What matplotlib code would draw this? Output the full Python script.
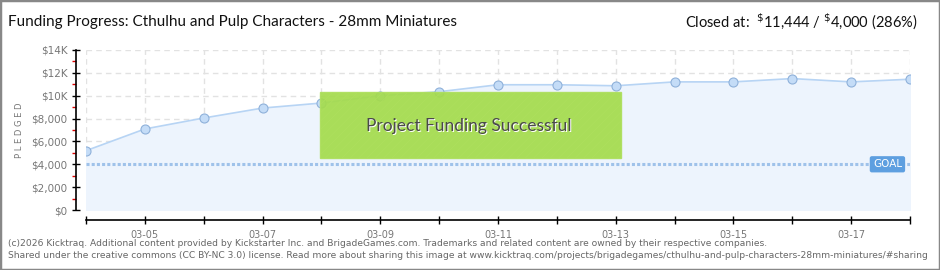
import numpy as np
import matplotlib
matplotlib.use("Agg")
import matplotlib.pyplot as plt
from matplotlib.patches import Rectangle
from matplotlib.ticker import FixedLocator

plt.rcParams["hatch.linewidth"] = 0.5

# daily pledged totals (USD), 03-04 .. 03-18
days = ["03-04", "03-05", "03-06", "03-07", "03-08", "03-09", "03-10", "03-11",
        "03-12", "03-13", "03-14", "03-15", "03-16", "03-17", "03-18"]
pledged = [5190, 7090, 8050, 8920, 9360, 10000, 10350, 10960,
           10960, 10870, 11210, 11210, 11500, 11210, 11444]
goal = 4000
y_ticks = [0, 2000, 4000, 6000, 8000, 10000, 12000, 14000]
y_labels = ["$0", "$2,000", "$4,000", "$6,000", "$8,000", "$10K", "$12K", "$14K"]

W, H = 940, 270
fig = plt.figure(figsize=(W / 100, H / 100), dpi=100)
ax = fig.add_axes([86 / W, 1 - 210 / H, 824 / W, 160 / H])

x = np.arange(len(days))
ax.fill_between(x, pledged, 0, color="#edf4fd", zorder=1)
ax.plot(x, pledged, color="#b7d4f4", lw=1.2, zorder=3)
ax.plot(x, pledged, ls="none", marker="o", ms=6.5, mfc="#c4dcf7",
        mec="#8fb1da", mew=0.8, zorder=4)

# goal line
ax.axhline(goal, color="#9fc2ea", lw=2.2, ls=(0, (1, 0.7)), zorder=2)
ax.annotate("GOAL", xy=(1.0, goal), xycoords=("axes fraction", "data"),
            xytext=(-8, 0), textcoords="offset pixels", ha="right", va="center",
            fontsize=7.5, color="white", family="DejaVu Sans",
            bbox=dict(boxstyle="round,pad=0.3,rounding_size=0.2",
                      fc="#5e9fe0", ec="none"),
            zorder=6)

ax.set_xlim(x[0], x[-1])
ax.set_ylim(0, 14000)

ax.xaxis.set_major_locator(FixedLocator(x[1::2]))
ax.xaxis.set_minor_locator(FixedLocator(x[0::2]))
ax.set_xticklabels(days[1::2])
ax.set_yticks(y_ticks)
ax.set_yticklabels(y_labels)
ax.yaxis.set_minor_locator(FixedLocator(np.arange(1000, 14000, 2000)))

ax.tick_params(axis="x", which="both", direction="inout", length=6, width=1,
               color="black", labelsize=7, labelcolor="#777777", pad=4)
ax.tick_params(axis="y", which="major", direction="inout", length=6, width=1,
               color="black", labelsize=7.5, labelcolor="#777777", pad=3)
ax.tick_params(axis="y", which="minor", direction="out", length=3, width=1,
               color="#dd0000")

for s in ["top", "right"]:
    ax.spines[s].set_visible(False)
ax.spines["left"].set_position(("outward", 7.2))
ax.spines["bottom"].set_position(("outward", 7.2))
ax.spines["left"].set_linewidth(1.2)
ax.spines["bottom"].set_linewidth(1.2)

ax.grid(True, which="both", axis="x", ls=(0, (4, 3)), color="#e2e2e2", lw=1)
ax.grid(True, which="major", axis="y", ls=(0, (4, 3)), color="#e2e2e2", lw=1)
ax.set_axisbelow(True)
ax.set_facecolor("none")

fig.text(20 / W, 1 - 130 / H, "P L E D G E D", rotation=90, ha="center",
         va="center", fontsize=6, color="#777777")

# success banner
fig.patches.append(Rectangle((320 / W, 1 - 158 / H), 301 / W, 66 / H,
                             transform=fig.transFigure, fc="#a4db4b",
                             ec="#aedf5e", lw=1, hatch="////", alpha=0.92,
                             zorder=5))
fig.text(469 / W + 0.0012, 1 - 126 / H - 0.004, "Project Funding Successful",
         ha="center", va="center", fontsize=12.5, color="white",
         family="Lato", zorder=6)
fig.text(469 / W, 1 - 126 / H, "Project Funding Successful",
         ha="center", va="center", fontsize=12.5, color="#4a4a4a",
         family="Lato", zorder=7)

# header
fig.text(8 / W, 1 - 22 / H,
         "Funding Progress: Cthulhu and Pulp Characters - 28mm Miniatures",
         ha="left", va="center", fontsize=11, color="#111111", family="Lato")
fig.text(918 / W, 1 - 22 / H,
         r"Closed at:  $^{\$}$11,444 / $^{\$}$4,000 (286%)",
         ha="right", va="center", fontsize=10.5, color="#111111", family="Lato")

# footer
fig.text(8 / W, 1 - 243 / H,
         "(c)2026 Kicktraq. Additional content provided by Kickstarter Inc. and "
         "BrigadeGames.com. Trademarks and related content are owned by their "
         "respective companies.",
         ha="left", va="center", fontsize=6.6, color="#666666")
fig.text(8 / W, 1 - 256 / H,
         "Shared under the creative commons (CC BY-NC 3.0) license. Read more "
         "about sharing this image at www.kicktraq.com/projects/brigadegames/"
         "cthulhu-and-pulp-characters-28mm-miniatures/#sharing",
         ha="left", va="center", fontsize=6.6, color="#666666")

fig.patches.append(Rectangle((0, 0), 1, 1, transform=fig.transFigure,
                             fill=False, ec="#888888", lw=2.5, zorder=10))

fig.savefig("out.png", dpi=100, facecolor="white")
